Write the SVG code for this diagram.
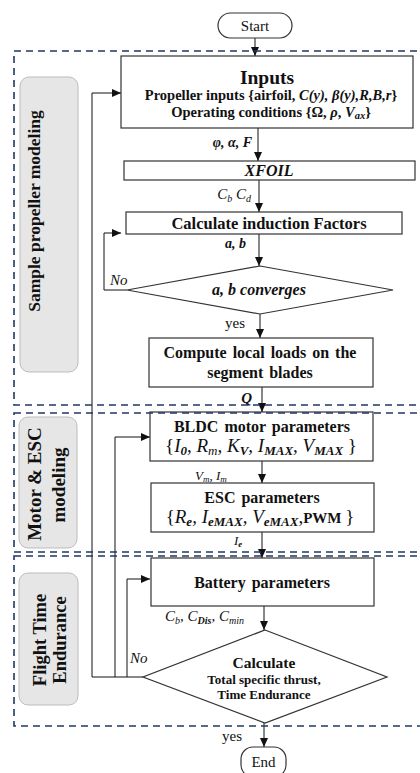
<svg xmlns="http://www.w3.org/2000/svg" width="420" height="773" viewBox="0 0 420 773">
<style>
text{font-family:"Liberation Serif","Times New Roman",serif;fill:#111}
.b{font-weight:bold}
.i{font-style:italic}
.box{fill:#fff;stroke:#333;stroke-width:1.2}
.term{fill:#fff;stroke:#333;stroke-width:1.2}
.conn{fill:none;stroke:#111;stroke-width:1}
.arr{marker-end:url(#ah)}
.dash{fill:none;stroke:#1f3864;stroke-width:1.6;stroke-dasharray:7 5}
.side{fill:#e6e6e6;stroke:#bcbcbc;stroke-width:1}
</style>
<defs>
<marker id="ah" markerUnits="userSpaceOnUse" markerWidth="9" markerHeight="8" refX="9" refY="4" orient="auto">
<path d="M0,0 L9,4 L0,8 z" fill="#111"/>
</marker>
</defs>
<rect width="420" height="773" fill="#fff"/>

<g id="lane-labels">
<g id="lane1"><rect class="side" x="20" y="77" width="58" height="295" rx="9"/>
<text class="b" font-size="17.5" text-anchor="middle" transform="translate(40,211) rotate(-90)">Sample propeller modeling</text></g>
<g id="lane2"><rect class="side" x="19" y="417" width="58" height="131" rx="9"/>
<text class="b" font-size="19" text-anchor="middle" transform="translate(41,484) rotate(-90)">Motor &amp; ESC</text>
<text class="b" font-size="19" text-anchor="middle" transform="translate(65,485) rotate(-90)">modeling</text></g>
<g id="lane3"><rect class="side" x="19" y="573" width="59" height="132" rx="9"/>
<text class="b" font-size="18.5" text-anchor="middle" transform="translate(46,640) rotate(-90)">Flight Time</text>
<text class="b" font-size="18.5" text-anchor="middle" transform="translate(66,640) rotate(-90)">Endurance</text></g>
</g>

<g id="connectors">
<path class="conn arr" d="M255,38 V56"/>
<path class="conn arr" d="M258,128 V161"/>
<path class="conn arr" d="M259,180 V212"/>
<path class="conn arr" d="M259,234 V266"/>
<path class="conn arr" d="M260,314 V338"/>
<path class="conn arr" d="M262,387 V412"/>
<path class="conn arr" d="M262,461 V483"/>
<path class="conn arr" d="M262,532 V558"/>
<path class="conn arr" d="M264,606 V630"/>
<path class="conn arr" d="M264,723 V747"/>
<path class="conn arr" d="M127,290 H104 V233 H121"/>
<path class="conn arr" d="M143,677 H92 V93 H121"/>
<path class="conn arr" d="M115,677 V437 H150"/>
<path class="conn arr" d="M127,677 V579 H150"/>
<text class="b i" font-size="14" x="252" y="147" text-anchor="end">φ, α, F</text>
<text class="i" font-size="15" x="251" y="199" text-anchor="end">C<tspan font-size="10" dy="3">b</tspan><tspan dy="-3"> C</tspan><tspan font-size="10" dy="3">d</tspan></text>
<text class="b i" font-size="14" x="246" y="248" text-anchor="end">a, b</text>
<text class="i" font-size="15" x="110" y="285">No</text>
<text font-size="15" x="225" y="328">yes</text>
<text class="b i" font-size="15" x="252" y="403" text-anchor="end">Q</text>
<text class="i" font-size="13" x="195" y="480">V<tspan font-size="9" dy="2">m</tspan><tspan dy="-2">, I</tspan><tspan font-size="9" dy="2">m</tspan></text>
<text class="i" font-size="13" x="234" y="545">I<tspan font-size="9" class="b" dy="2">e</tspan></text>
<text class="i" font-size="15" x="165" y="621">C<tspan font-size="10" dy="3">b</tspan><tspan dy="-3">, C</tspan><tspan font-size="10" class="b" dy="3">Dis</tspan><tspan dy="-3">, C</tspan><tspan font-size="10" dy="3">min</tspan></text>
<text class="i" font-size="15" x="130" y="663">No</text>
<text font-size="15" x="222" y="741">yes</text>
</g>

<g id="start"><rect class="term" x="218" y="13" width="74" height="25" rx="12.5"/>
<text font-size="15" x="255" y="31" text-anchor="middle">Start</text></g>

<g id="inputs"><rect class="box" x="121" y="56" width="292" height="72"/>
<text class="b" font-size="19.5" x="267" y="84" text-anchor="middle">Inputs</text>
<text class="b" font-size="14.5" x="271" y="100" text-anchor="middle">Propeller inputs {airfoil, <tspan class="i">C(y), β(y),R,B,r</tspan>}</text>
<text class="b" font-size="14.5" x="271" y="117" text-anchor="middle">Operating conditions {Ω, <tspan class="i">ρ</tspan>, <tspan class="i">V</tspan><tspan class="i" font-size="10.5" dy="2">ax</tspan><tspan dy="-2">}</tspan></text></g>

<g id="xfoil"><rect class="box" x="124" y="161" width="291" height="19"/>
<text class="b i" font-size="16" x="269" y="176" text-anchor="middle">XFOIL</text></g>

<g id="induction"><rect class="box" x="126" y="212" width="276" height="22"/>
<text class="b" font-size="16.5" x="269" y="228.5" text-anchor="middle">Calculate induction Factors</text></g>

<g id="converge"><polygon class="box" points="260,266 393,290 260,314 127,290"/>
<text class="b i" font-size="16" x="259" y="295" text-anchor="middle">a, b converges</text></g>

<g id="loads"><rect class="box" x="149" y="338" width="224" height="49"/>
<text class="b" font-size="16" x="260" y="358" text-anchor="middle" word-spacing="2">Compute local loads on the</text>
<text class="b" font-size="16" x="260" y="378" text-anchor="middle" word-spacing="2">segment blades</text></g>

<g id="bldc"><rect class="box" x="150" y="412" width="223" height="49"/>
<text class="b" font-size="16" x="262" y="432" text-anchor="middle" word-spacing="2">BLDC motor parameters</text>
<text class="i" font-size="19" x="261" y="452" text-anchor="middle"><tspan font-style="normal">{</tspan>I<tspan font-size="13" class="b" dy="3">0</tspan><tspan dy="-3">, R</tspan><tspan font-size="13" dy="3">m</tspan><tspan dy="-3">, K</tspan><tspan font-size="13" class="b" dy="3">V</tspan><tspan dy="-3">, I</tspan><tspan font-size="13" class="b" dy="3">MAX</tspan><tspan dy="-3">, V</tspan><tspan font-size="13" class="b" dy="3">MAX</tspan><tspan dy="-3" font-style="normal"> }</tspan></text></g>

<g id="esc"><rect class="box" x="151" y="483" width="223" height="49"/>
<text class="b" font-size="16" x="262" y="503" text-anchor="middle" word-spacing="2">ESC parameters</text>
<text class="i" font-size="19" x="260" y="523" text-anchor="middle"><tspan font-style="normal">{</tspan>R<tspan font-size="13" class="b" dy="3">e</tspan><tspan dy="-3">, I</tspan><tspan font-size="13" class="b" dy="3">eMAX</tspan><tspan dy="-3">, V</tspan><tspan font-size="13" class="b" dy="3">eMAX</tspan><tspan dy="-3" font-style="normal">,</tspan><tspan font-style="normal" class="b" font-size="15">PWM </tspan><tspan font-style="normal">}</tspan></text></g>

<g id="battery"><rect class="box" x="151" y="558" width="223" height="48"/>
<text class="b" font-size="16" x="262" y="588" text-anchor="middle" word-spacing="2">Battery parameters</text></g>

<g id="calc"><polygon class="box" points="265,630 387,677 265,723 143,677"/>
<text class="b" font-size="15.5" x="264" y="668" text-anchor="middle">Calculate</text>
<text class="b" font-size="13" x="264" y="684" text-anchor="middle">Total specific thrust,</text>
<text class="b" font-size="13" x="264" y="699" text-anchor="middle">Time Endurance</text></g>

<g id="end"><rect class="term" x="241" y="747" width="45" height="30" rx="12"/>
<text font-size="15" x="263.5" y="767" text-anchor="middle">End</text></g>

<g id="lanes">
<rect class="dash" x="14" y="51" width="420" height="354"/>
<rect class="dash" x="14" y="413" width="420" height="139"/>
<rect class="dash" x="14" y="556" width="420" height="170"/>
</g>
</svg>
